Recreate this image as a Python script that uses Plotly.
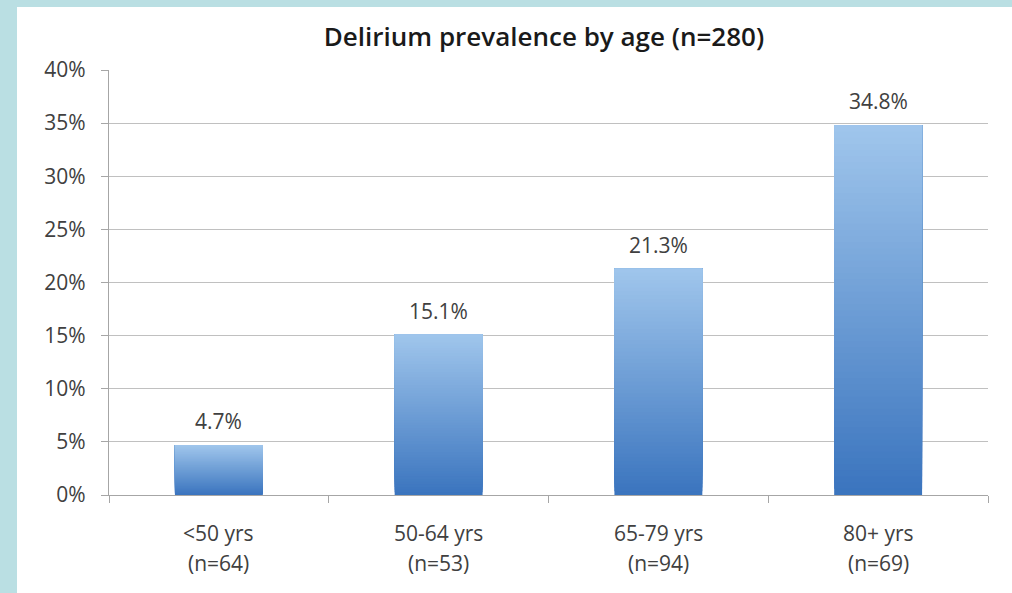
import plotly.graph_objects as go

categories = ["<50 yrs", "50-64 yrs", "65-79 yrs", "80+ yrs"]
group_n = ["(n=64)", "(n=53)", "(n=94)", "(n=69)"]
prevalence = [0.047, 0.151, 0.213, 0.348]
value_labels = ["4.7%", "15.1%", "21.3%", "34.8%"]
title_text = "Delirium prevalence by age (n=280)"

W, H = 1012, 593
ML, MR, MT, MB = 109, 24, 70, 98
PW, PH = W - ML - MR, H - MT - MB

FONT = "Open Sans"
TXT = "#404040"
bottom_rgb = (58, 116, 190)
top_rgb = (160, 198, 236)
N_SLICES = 60

fig = go.Figure()
# gradient bars: each layer spans from its base up to the bar top; higher layers drawn later
for j in range(N_SLICES):
    t = (j + 0.5) / N_SLICES
    c = tuple(round(bottom_rgb[k] + (top_rgb[k] - bottom_rgb[k]) * t) for k in range(3))
    fig.add_trace(go.Bar(
        x=categories,
        y=[v * (N_SLICES - j) / N_SLICES for v in prevalence],
        base=[v * j / N_SLICES for v in prevalence],
        width=0.4,
        marker=dict(color="rgb(%d,%d,%d)" % c, line=dict(width=0)),
        hoverinfo="skip",
        showlegend=False,
    ))

annotations = []
for cat, v, lab, n in zip(categories, prevalence, value_labels, group_n):
    annotations.append(dict(x=cat, y=v, xref="x", yref="y", text=lab, showarrow=False,
                            yanchor="middle", yshift=24,
                            font=dict(family=FONT, size=21, color=TXT)))
    annotations.append(dict(x=cat, y=0, xref="x", yref="paper", text=cat, showarrow=False,
                            yanchor="middle", yshift=-38,
                            font=dict(family=FONT, size=21, color=TXT)))
    annotations.append(dict(x=cat, y=0, xref="x", yref="paper", text=n, showarrow=False,
                            yanchor="middle", yshift=-68,
                            font=dict(family=FONT, size=21, color=TXT)))

# white panel over light-blue page
px0 = (17 - ML) / PW
px1 = (W + 5 - ML) / PW
py1 = 1 + (MT - 7) / PH
py0 = -(H + 5 - (MT + PH)) / PH

fig.update_layout(
    width=W, height=H,
    margin=dict(l=ML, r=MR, t=MT, b=MB),
    paper_bgcolor="#BADFE3",
    plot_bgcolor="rgba(0,0,0,0)",
    barmode="overlay",
    title=dict(text=title_text, x=544 / W, xanchor="center",
               y=1 - 37 / H, yanchor="middle",
               font=dict(family=FONT, size=26, weight=600, color="#1a1a1a")),
    shapes=[dict(type="rect", xref="paper", yref="paper", x0=px0, x1=px1, y0=py0, y1=py1,
                 fillcolor="white", line=dict(width=0), layer="below")],
    annotations=annotations,
    xaxis=dict(showticklabels=False, showgrid=False, showline=True, linecolor="#A6A6A6",
               linewidth=1.2, ticks="outside", tickson="boundaries", ticklen=7,
               tickcolor="#A6A6A6", zeroline=False),
    yaxis=dict(range=[0, 0.4], dtick=0.05, tickformat=".0%", showgrid=True,
               gridcolor="#C0C0C0", gridwidth=1.3, showline=True, linecolor="#A6A6A6",
               linewidth=1.2, ticks="outside", ticklen=7, tickcolor="#A6A6A6",
               ticklabelstandoff=11, zeroline=False,
               tickfont=dict(family=FONT, size=21, color=TXT)),
)

fig.write_html("out.html", config={"displayModeBar": False},
               post_script="document.body.style.margin='0px';document.body.style.overflow='hidden';")
